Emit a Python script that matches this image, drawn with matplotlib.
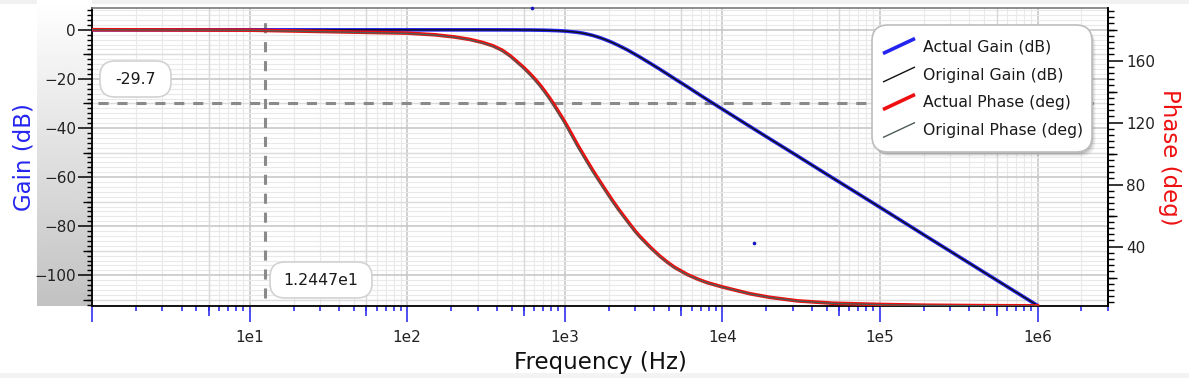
# Bode plot: actual vs original gain/phase with cursor read-outs

import numpy as np
import matplotlib
matplotlib.use("Agg")
import matplotlib.pyplot as plt
from matplotlib.patches import FancyBboxPatch, Rectangle
from matplotlib.lines import Line2D
from matplotlib.ticker import FixedLocator, FuncFormatter, MultipleLocator, NullFormatter
from matplotlib.transforms import IdentityTransform

plt.rcParams['font.family'] = ['DejaVu Sans']

# values
freq = [1, 10, 100, 150, 200, 250, 300, 350, 400, 450, 500, 550, 600, 650, 700, 750,
        800, 850, 900, 950, 1000, 1100, 1200, 1300, 1400, 1500, 1600, 1700, 1800, 1900,
        2000, 2200, 2500, 2800, 3000, 3500, 4000, 4500, 5000, 6000, 7000, 8000, 10000,
        12000, 15000, 20000, 30000, 50000, 70000, 100000, 200000, 500000, 1000000]

gain_actual = [0.0, 0.0, 0.0, 0.0, 0.0, 0.0, 0.0, -0.01, -0.01, -0.02, -0.03, -0.05,
               -0.06, -0.09, -0.12, -0.16, -0.21, -0.27, -0.33, -0.41, -0.5, -0.75, -1.0,
               -1.35, -1.8, -2.25, -2.8, -3.35, -3.95, -4.55, -5.15, -6.4, -8.2, -10.0,
               -11.1, -13.7, -16.0, -18.1, -20.0, -23.2, -26.0, -28.4, -32.3, -35.5, -39.4,
               -44.4, -51.4, -60.3, -66.1, -72.3, -84.4, -100.3, -112.3]
gain_original = [0.0, 0.0, 0.0, 0.0, 0.0, 0.0, 0.0, -0.01, -0.01, -0.02, -0.03, -0.05,
                 -0.06, -0.09, -0.12, -0.16, -0.21, -0.27, -0.33, -0.41, -0.5, -0.75, -1.0,
                 -1.35, -1.8, -2.25, -2.8, -3.35, -3.95, -4.55, -5.15, -6.4, -8.2, -10.0,
                 -11.1, -13.7, -16.0, -18.1, -20.0, -23.2, -26.0, -28.4, -32.3, -35.5, -39.4,
                 -44.4, -51.4, -60.3, -66.1, -72.3, -84.4, -100.3, -112.3]

phase_actual = [180.0, 179.7, 177.8, 176.7, 175.3, 173.7, 171.8, 169.6, 166.8, 163.2,
                159.2, 155.5, 151.7, 147.9, 144.0, 140.0, 136.0, 132.0, 128.0, 124.2,
                120.5, 113.0, 106.0, 100.0, 94.5, 89.5, 85.0, 80.9, 77.0, 73.4,
                70.0, 64.0, 56.5, 50.0, 46.5, 39.5, 34.0, 29.8, 26.5, 22.0, 19.0, 16.8,
                14.0, 12.0, 9.6, 7.3, 5.0, 3.5, 3.1, 2.7, 2.2, 1.9, 1.8]
phase_original = [180.0, 179.6, 177.6, 176.5, 175.1, 173.4, 171.4, 169.2, 166.3, 162.6,
                  158.5, 154.7, 150.8, 146.9, 143.0, 138.9, 134.9, 130.8, 126.8, 122.9,
                  119.2, 111.6, 104.6, 98.7, 93.2, 88.3, 83.8, 79.8, 76.0, 72.4,
                  69.0, 63.1, 55.6, 49.2, 45.7, 38.9, 33.5, 29.4, 26.1, 21.7, 18.8, 16.6,
                  13.8, 11.9, 9.5, 7.2, 4.9, 3.4, 3.0, 2.6, 2.1, 1.8, 1.7]

# stray samples of the measured gain
glitch_freq = [620, 15900]
glitch_gain = [8.9, -87.0]

cursor_gain = -29.7
cursor_freq = 12.447

legend_labels = ["Actual Gain (dB)", "Original Gain (dB)",
                 "Actual Phase (deg)", "Original Phase (deg)"]

W, H = 1189, 378
L, R, T, B = 92, 1108, 8, 306   # plot area in pixels

fig = plt.figure(figsize=(W / 100, H / 100), dpi=100)

# grey gradient behind the gain tick labels
gax = fig.add_axes([37 / W, 1 - B / H, (L - 37) / W, B / H], zorder=-1)
gax.imshow(np.linspace(1.0, 0.76, 256)[:, None], cmap='gray', vmin=0, vmax=1, aspect='auto')
gax.axis('off')

ax = fig.add_axes([L / W, 1 - B / H, (R - L) / W, (B - T) / H])
ax.set_xscale('log')
ax.set_xlim(1, 2.8e6)
ax.set_ylim(-112.5, 8.9)

blue = '#2424f0'
tick_blue = '#3030ee'

# x ticks: decades plus ten linear steps per decade
ax.xaxis.set_major_locator(FixedLocator([10.0 ** k for k in range(0, 7)]))
ax.xaxis.set_major_formatter(FuncFormatter(lambda v, p: "" if v < 5 else "1e%d" % round(np.log10(v))))
minors = [10.0 ** k * (1 + 0.9 * i) for k in range(0, 7) for i in range(1, 10)]
ax.xaxis.set_minor_locator(FixedLocator([m for m in minors if m <= 2.8e6]))
ax.xaxis.set_minor_formatter(NullFormatter())
ax.tick_params(axis='x', which='major', direction='out', length=11.5, width=1.2,
               color=tick_blue, labelsize=11, pad=5.5, labelcolor='#222222')
ax.tick_params(axis='x', which='minor', direction='out', length=3.8, width=1.2, color=tick_blue)

ax.yaxis.set_major_locator(MultipleLocator(20))
ax.yaxis.set_minor_locator(MultipleLocator(2))
ax.tick_params(axis='y', which='major', direction='out', length=10, width=1.1,
               color='k', labelsize=11, pad=1.5, labelcolor='#222222')
ax.tick_params(axis='y', which='minor', direction='out', length=3.6, width=1.0, color='k')

# grid
ax.grid(which='major', color='#c8c8c8', lw=1.2)
ax.grid(which='minor', color='#e9e9e9', lw=0.8)
mid_x = [5.5 * 10.0 ** k for k in range(0, 6)]
mid_y = list(range(-110, 10, 20))
for v in mid_x:
    ax.axvline(v, color='#d8d8d8', lw=1.0, zorder=0.6)
for v in mid_y:
    ax.axhline(v, color='#dcdcdc', lw=1.0, zorder=0.6)
ax.set_axisbelow(True)

# mid-length ticks
ax.plot(mid_x, [0] * len(mid_x), transform=ax.get_xaxis_transform(), ls='none',
        marker=3, ms=7.2, mew=1.2, color=tick_blue, clip_on=False)
ax.plot([0] * len(mid_y), mid_y, transform=ax.get_yaxis_transform(), ls='none',
        marker=0, ms=6.5, mew=1.0, color='k', clip_on=False)

for s in ['left', 'bottom', 'right']:
    ax.spines[s].set_color('k')
    ax.spines[s].set_linewidth(1.3)
ax.spines['top'].set_color('#7a7a7a')
ax.spines['top'].set_linewidth(1.2)

# cursor lines
dash = (0, (3.3, 2.9))
ax.axhline(cursor_gain, xmin=(98 - L) / (R - L), xmax=(1095 - L) / (R - L),
           color='#8a8a8a', lw=2.2, ls=dash, zorder=1)
ax.axvline(cursor_freq, ymin=(B - 298) / (B - T), ymax=(B - 17) / (B - T),
           color='#8a8a8a', lw=2.2, ls=dash, zorder=1)

# gain
ax.plot(freq, gain_actual, color=blue, lw=2.6, zorder=3, solid_capstyle='butt')
ax.plot(freq, gain_original, color='#101010', lw=1.0, zorder=4)
ax.plot(glitch_freq, glitch_gain, ls='none', marker='o', ms=2.6, color='#1515c0',
        mew=0, zorder=4, clip_on=False)

ax.set_xlabel('Frequency (Hz)', fontsize=16.5, color='#111111')
ax.xaxis.set_label_coords(0.5, (B - 362) / (B - T))
ax.xaxis.label.set_va('center')
ax.set_ylabel('Gain (dB)', fontsize=16.5, color=blue)
ax.yaxis.set_label_coords((23.5 - L) / (R - L), 0.5)
ax.yaxis.label.set_va('center')

# phase on the right
ax2 = ax.twinx()
ax2.set_ylim(1.7, 194.0)
ax2.yaxis.set_major_locator(FixedLocator([40, 80, 120, 160]))
ax2.yaxis.set_minor_locator(MultipleLocator(4))
ax2.tick_params(axis='y', which='major', direction='out', length=11, width=1.1,
                color='k', labelsize=11, pad=2, labelcolor='#222222')
ax2.tick_params(axis='y', which='minor', direction='out', length=4, width=1.0, color='k')
mid_p = [20, 60, 100, 140, 180]
ax2.plot([1] * len(mid_p), mid_p, transform=ax2.get_yaxis_transform(), ls='none',
         marker=1, ms=6.5, mew=1.0, color='k', clip_on=False)
for s in ['left', 'top', 'bottom']:
    ax2.spines[s].set_visible(False)
ax2.spines['right'].set_color('k')
ax2.spines['right'].set_linewidth(1.3)

ax2.plot(freq, phase_actual, color='#ee1010', lw=2.6, zorder=3)
ax2.plot(freq, phase_original, color='#4c5c54', lw=1.0, zorder=4)

ax2.set_ylabel('Phase (deg)', fontsize=16.5, color='#ee1010', rotation=270)
ax2.yaxis.set_label_coords((1170 - L) / (R - L), 0.5)
ax2.yaxis.label.set_va('center')
ax2.yaxis.label.set_ha('center')


def pxbox(x0, y0, x1, y1, r, **kw):
    p = FancyBboxPatch((x0, H - y1), x1 - x0, y1 - y0,
                       boxstyle="round,pad=0,rounding_size=%g" % r,
                       transform=IdentityTransform(), **kw)
    fig.add_artist(p)
    return p


# cursor read-out boxes
pxbox(100, 61, 171, 97, 15, fc='white', ec='#d2d2d2', lw=1.2, zorder=4)
fig.text(135.5 / W, 1 - 79.5 / H, "%.1f" % cursor_gain, ha='center', va='center',
         fontsize=11.3, color='#1a1a1a', zorder=5)
pxbox(270, 262, 372, 298, 15, fc='white', ec='#d2d2d2', lw=1.2, zorder=4)
fig.text(321 / W, 1 - 280.5 / H, "%.4fe1" % (cursor_freq / 10), ha='center', va='center',
         fontsize=11.3, color='#1a1a1a', zorder=5)

# legend with slanted handles
for k, a in enumerate([0.10, 0.07, 0.05, 0.03]):
    pxbox(872 + 1 + k, 25 + 2 + k, 1092 + 1 + k, 152 + 2 + k, 16, fc='k', ec='none',
          alpha=a, zorder=4)
pxbox(872, 25, 1092, 152, 16, fc='white', ec='#bdbdbd', lw=1.2, zorder=4.1)
styles = [(blue, 2.6), ('#101010', 1.0), ('#ee1010', 2.6), ('#4c5c54', 1.0)]
rows = [47, 75.5, 103, 131]
for lab, (c, lw), yc in zip(legend_labels, styles, rows):
    fig.add_artist(Line2D([883 / W, 915 / W], [1 - (yc + 6.5) / H, 1 - (yc - 8.5) / H],
                          transform=fig.transFigure, color=c, lw=lw, zorder=5,
                          solid_capstyle='butt'))
    fig.text(923 / W, 1 - yc / H, lab, ha='left', va='center', fontsize=11.3,
             color='#1a1a1a', zorder=5)

# faint frame bands at top and bottom
fig.add_artist(Rectangle((0, H - 4), W, 4, transform=IdentityTransform(),
                         fc='#f1f1f1', ec='none', zorder=-2))
fig.add_artist(Rectangle((0, 0), W, 5, transform=IdentityTransform(),
                         fc='#f3f3f3', ec='none', zorder=-2))

fig.savefig('out.png', dpi=100)
